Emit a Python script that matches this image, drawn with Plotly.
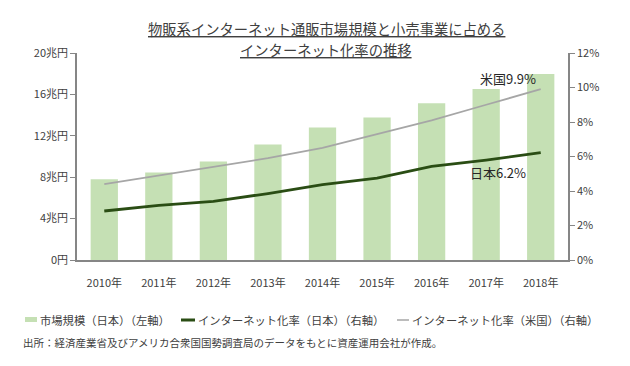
import plotly.graph_objects as go

years = ["2010年", "2011年", "2012年", "2013年", "2014年", "2015年", "2016年", "2017年", "2018年"]
market_jp = [7.79, 8.46, 9.51, 11.16, 12.79, 13.77, 15.14, 16.51, 17.98]
rate_jp = [2.84, 3.17, 3.40, 3.85, 4.37, 4.75, 5.43, 5.79, 6.22]
rate_us = [4.4, 4.9, 5.4, 5.9, 6.5, 7.3, 8.1, 9.0, 9.9]
left_ticks = [0, 4, 8, 12, 16, 20]
left_ticktext = ["0円", "4兆円", "8兆円", "12兆円", "16兆円", "20兆円"]
right_ticks = [0, 2, 4, 6, 8, 10, 12]
right_ticktext = [f"{v}%" for v in right_ticks]
legend_names = ["市場規模（日本）（左軸）", "インターネット化率（日本）（右軸）", "インターネット化率（米国）（右軸）"]

FONT = "Noto Sans CJK JP"
TXT = "#404040"
BAR = "#c5e0b4"
JP = "#2a4d14"
US = "#a6a6a6"

# The page body has an 8px default margin, so the figure is shrunk and shifted
OFF = 8
W, H = 630 - OFF, 366 - OFF
L, R, T, B = 77 - OFF, 62, 53 - OFF, 106
PW, PH = W - L - R, H - T - B


def px(x):  # x in window pixels -> paper
    return (x - OFF - L) / PW


def py(y):  # y in window pixels -> paper
    return (H - B - (y - OFF)) / PH


fig = go.Figure()
fig.add_trace(go.Bar(x=years, y=market_jp, name=legend_names[0],
                     marker=dict(color=BAR, line=dict(width=0)), width=0.5))
fig.add_trace(go.Scatter(x=years, y=rate_jp, yaxis="y2", mode="lines",
                         name=legend_names[1], line=dict(color=JP, width=2.8)))
fig.add_trace(go.Scatter(x=years, y=rate_us, yaxis="y2", mode="lines",
                         name=legend_names[2], line=dict(color=US, width=1.8)))

annotations = [
    dict(text="<u>物販系インターネット通販市場規模と小売事業に占める</u>",
         xref="paper", yref="paper", x=px(326), y=py(29), xanchor="center", yanchor="middle",
         showarrow=False, font=dict(size=14.3, color=TXT)),
    dict(text="<u>インターネット化率の推移</u>",
         xref="paper", yref="paper", x=px(326), y=py(50), xanchor="center", yanchor="middle",
         showarrow=False, font=dict(size=14.3, color=TXT)),
    dict(text="米国9.9%", x="2018年", y=rate_us[-1], xref="x", yref="y2",
         xanchor="right", yanchor="bottom", xshift=-3, yshift=-1, showarrow=False,
         font=dict(size=13, color="#262626")),
    dict(text="日本6.2%", x="2017年", y=rate_jp[-2], xref="x", yref="y2",
         xanchor="left", yanchor="top", xshift=-18, yshift=-1, showarrow=False,
         font=dict(size=13, color="#262626")),
    dict(text="出所：経済産業省及びアメリカ合衆国国勢調査局のデータをもとに資産運用会社が作成。",
         xref="paper", yref="paper", x=px(21), y=py(342), xanchor="left", yanchor="middle",
         showarrow=False, font=dict(size=10.5, color=TXT)),
]
for name, xpix in zip(legend_names, [38, 196, 410]):
    annotations.append(dict(text=name, xref="paper", yref="paper", x=px(xpix), y=py(320),
                            xanchor="left", yanchor="middle", showarrow=False,
                            font=dict(size=11.3, color=TXT)))

shapes = [
    dict(type="rect", xref="paper", yref="paper", x0=px(25), x1=px(37), y0=py(322), y1=py(317),
         fillcolor=BAR, line=dict(width=0)),
    dict(type="line", xref="paper", yref="paper", x0=px(181), x1=px(195), y0=py(320), y1=py(320),
         line=dict(color=JP, width=3)),
    dict(type="line", xref="paper", yref="paper", x0=px(397), x1=px(409), y0=py(320), y1=py(320),
         line=dict(color=US, width=1.5)),
]

fig.update_layout(
    width=W, height=H,
    margin=dict(l=L, r=R, t=T, b=B, autoexpand=False),
    paper_bgcolor="white", plot_bgcolor="white",
    font=dict(family=FONT, size=11, color=TXT),
    showlegend=False,
    xaxis=dict(showline=True, linecolor="#868686", linewidth=1.5, ticks="",
               tickfont=dict(size=11, color=TXT), showgrid=False, ticklabelstandoff=12),
    yaxis=dict(range=[0, 20], tickvals=left_ticks, ticktext=left_ticktext,
               showline=True, linecolor="#868686", linewidth=1.5, ticks="outside",
               ticklen=5, tickcolor="#868686", showgrid=False, zeroline=False,
               tickfont=dict(size=11, color=TXT)),
    yaxis2=dict(range=[0, 12], tickvals=right_ticks, ticktext=right_ticktext, overlaying="y",
                side="right", showline=True, linecolor="#868686", linewidth=1.5,
                ticks="outside", ticklen=5, tickcolor="#868686", showgrid=False,
                zeroline=False, tickfont=dict(size=11, color=TXT)),
    annotations=annotations,
    shapes=shapes,
)

fig.write_html("out.html")
